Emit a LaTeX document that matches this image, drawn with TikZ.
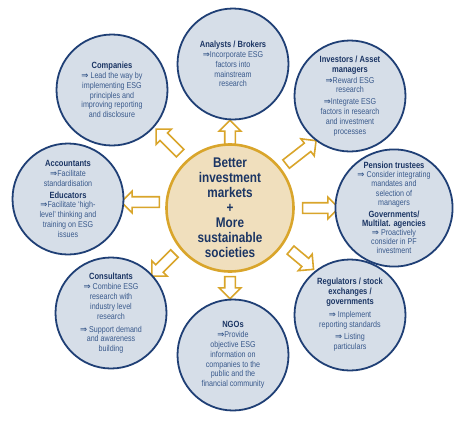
\documentclass[tikz,border=0pt]{standalone}
\usepackage{fontspec}
\setmainfont{Liberation Sans}[FakeStretch=0.84]
\newfontfamily\symf{DejaVu Sans}
\usetikzlibrary{shapes.arrows}
\definecolor{navy}{HTML}{1F3F75}
\definecolor{headc}{HTML}{1B3564}
\definecolor{bodyc}{HTML}{3A5A8C}
\definecolor{cfill}{HTML}{D6DEE8}
\definecolor{gold}{HTML}{D9A52B}
\definecolor{beige}{HTML}{F0DFBD}
\newcommand\hd[1]{{\fontsize{9}{9.8}\selectfont\bfseries\color{headc}#1}}
\newcommand\arr{{\symf\bfseries\fontsize{8.5}{9}\selectfont ⇒}}
\begin{document}
\begin{tikzpicture}[x=1pt,y=-1pt,
  outer/.style={circle, draw=navy, line width=1.8pt, fill=cfill, minimum size=111pt,
    inner sep=0pt, align=center, text=bodyc, font=\fontsize{8.5}{9.8}\selectfont},
  centre/.style={circle, draw=gold, line width=2.6pt, fill=beige, minimum size=127pt,
    inner sep=0pt, align=center, text=headc, font=\fontsize{14}{15}\selectfont\bfseries},
  barrow/.style={single arrow, draw=gold, fill=white, line width=1.6pt,
    inner xsep=0pt, inner ysep=4.5pt, single arrow head extend=5.5pt, minimum height=#1}]
\path[use as bounding box] (0,0) rectangle (464,424);

% block arrows
\node[barrow=24pt, rotate=90]  (aup) at (230,135) {};
\node[barrow=34pt, rotate=135] (aul) at (170,143) {};
\node[barrow=38pt, rotate=180] (al)  at (143,202) {};
\node[barrow=32pt, rotate=225] (adl) at (165,263) {};
\node[barrow=22pt, rotate=270] (ad)  at (230,285) {};
\node[barrow=30pt, rotate=-40] (adr) at (300,258) {};
\node[barrow=36pt, rotate=0]   (ar)  at (318,208) {};
\node[barrow=38pt, rotate=38]  (aur) at (299,154) {};

% centre
\node[centre] (c) at (230,208) {Better\\investment\\markets\\+\\More\\sustainable\\societies};

% outer circles
\node[outer] (comp) at (112,90) {\hd{Companies}\\\arr\ Lead the way by\\implementing ESG\\principles and\\improving reporting\\and disclosure};
\node[outer] (anal) at (233,64) {\hd{Analysts / Brokers}\\\arr Incorporate ESG\\factors into\\mainstream\\research};
\node[outer] (inv) at (350,96) {\hd{Investors / Asset}\\\hd{managers}\\[1pt]\arr Reward ESG\\research\\[2pt]\arr Integrate ESG\\factors in research\\and investment\\processes};
\node[outer, font=\fontsize{8.5}{9.1}\selectfont] (pens) at (394,208) {\hd{Pension trustees}\\\arr\ Consider integrating\\mandates and\\selection of\\managers\\[3pt]\hd{Governments/}\\\hd{Multilat. agencies}\\\arr\ Proactively\\consider in PF\\investment};
\node[outer] (acc) at (68,199) {\hd{Accountants}\\\arr Facilitate\\standardisation\\[2pt]\hd{Educators}\\\arr Facilitate ‘high-\\level’ thinking and\\training on ESG\\issues};
\node[outer] (cons) at (111,313) {\hd{Consultants}\\[1pt]\arr\ Combine ESG\\research with\\industry level\\research\\[3pt]\arr\ Support demand\\and awareness\\building};
\node[outer] (ngo) at (233,355) {\hd{NGOs}\\\arr Provide\\objective ESG\\information on\\companies to the\\public and the\\financial community};
\node[outer] (reg) at (350,315) {\hd{Regulators / stock}\\\hd{exchanges /}\\\hd{governments}\\[3pt]\arr\ Implement\\reporting standards\\[3pt]\arr\ Listing\\particulars};
\end{tikzpicture}
\end{document}
